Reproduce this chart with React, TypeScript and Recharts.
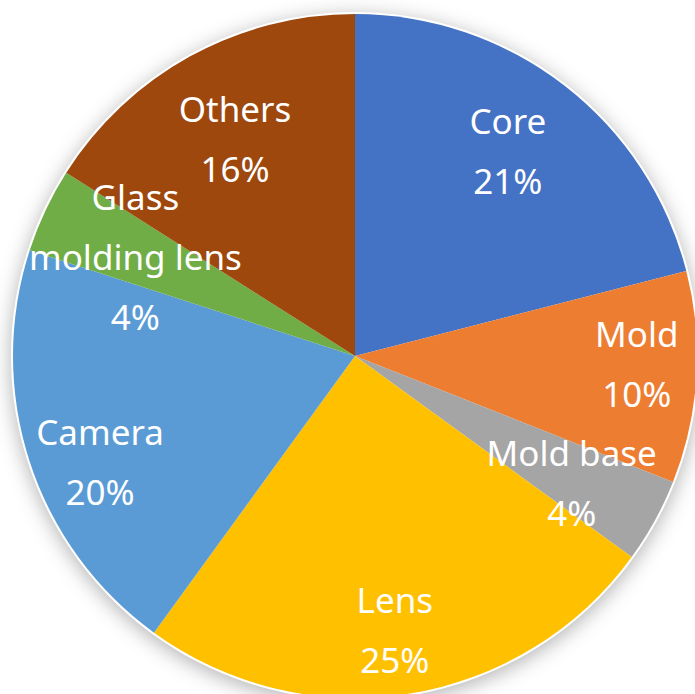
import React from "react";
import { PieChart, Pie, Cell } from "recharts";

const categories = ["Core", "Mold", "Mold base", "Lens", "Camera", "Glass molding lens", "Others"];
const shares = [21, 10, 4, 25, 20, 4, 16];
const labelLines = [["Core"], ["Mold"], ["Mold base"], ["Lens"], ["Camera"], ["Glass", "molding lens"], ["Others"]];

const COLORS = ["#4472C4", "#ED7D31", "#A5A5A5", "#FFC000", "#5B9BD5", "#70AD47", "#9E480E"];
const LABEL_RADIUS = [254, 282, 252, 279, 277, 240, 246];
const LABEL_TURN = [-0.8, -1.6, 1.9, 0.8, -5, -1.4, -0.4];

const data = categories.map((name, i) => ({ name, value: shares[i] }));
const bg = [{ name: "bg", value: 1 }];

const RADIAN = Math.PI / 180;
const LINE_GAP = 60;

const renderLabel = (props: any) => {
  const { cx, cy, midAngle, index } = props;
  const r = LABEL_RADIUS[index];
  const a = midAngle - LABEL_TURN[index];
  const x = cx + r * Math.cos(-a * RADIAN);
  const y = cy + r * Math.sin(-a * RADIAN) - 3;
  const lines = [...labelLines[index], `${shares[index]}%`];
  const start = -((lines.length - 1) * LINE_GAP) / 2;
  return (
    <text
      key={`lbl-${index}`}
      x={x}
      y={y}
      fill="#ffffff"
      textAnchor="middle"
      dominantBaseline="central"
      fontFamily="'Noto Sans', sans-serif"
      fontSize={35}
    >
      {lines.map((t, i) => (
        <tspan key={i} x={x} y={y + start + i * LINE_GAP} dominantBaseline="central">
          {t}
        </tspan>
      ))}
    </text>
  );
};

export default function App() {
  return (
    <div style={{ position: "absolute", left: 0, top: 0, width: 695, height: 694, background: "#ffffff" }}>
      <PieChart width={695} height={694} margin={{ top: 0, right: 0, bottom: 0, left: 0 }}>
        <Pie
          data={bg}
          dataKey="value"
          cx={355}
          cy={356}
          outerRadius={344}
          startAngle={90}
          endAngle={-270}
          isAnimationActive={false}
          stroke="none"
        >
          <Cell fill="#ffffff" style={{ filter: "drop-shadow(0px 4px 10px rgba(0,0,0,0.3))" }} />
        </Pie>
        <Pie
          data={data}
          dataKey="value"
          nameKey="name"
          cx={355}
          cy={356}
          outerRadius={342}
          startAngle={90}
          endAngle={-270}
          isAnimationActive={false}
          stroke="none"
          labelLine={false}
          label={renderLabel}
        >
          {data.map((d, i) => (
            <Cell key={d.name} fill={COLORS[i]} stroke="none" />
          ))}
        </Pie>
      </PieChart>
    </div>
  );
}
